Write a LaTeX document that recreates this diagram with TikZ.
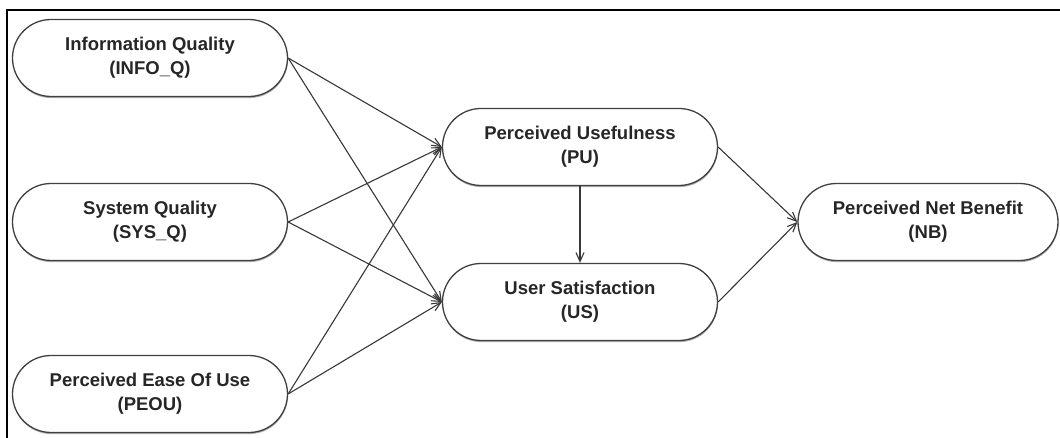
\documentclass[tikz,border=0pt]{standalone}
\usepackage{fontspec}
\setmainfont{Liberation Sans}
\usetikzlibrary{shapes.misc,arrows.meta,shadows}

\tikzset{
  construct/.style={
    rounded rectangle, draw=black!75, line width=1.3pt, fill=white,
    minimum width=275pt, minimum height=77pt, inner sep=0pt,
    align=center, font=\fontsize{18.5}{24}\selectfont\bfseries,
    text=black!85,
    drop shadow={shadow xshift=0.4pt, shadow yshift=-1.6pt, opacity=0.45, fill=black!70}
  },
  link/.style={draw=black!78, line width=1.1pt,
    -{Straight Barb[length=9pt,width=8pt,line width=1.1pt]}},
  frameline/.style={draw=black, line width=2.5pt}
}

\begin{document}
\begin{tikzpicture}[x=1pt,y=-1pt]
  \useasboundingbox (0,0) rectangle (1060,438);
  \fill[white] (0,0) rectangle (1060,438);

  % outer frame (top and left edges)
  \coordinate (fbl) at (7,438);
  \coordinate (ftl) at (7,10);
  \coordinate (ftr) at (1060,10);
  \draw[frameline] (fbl) -- (ftl) -- (ftr);

  % constructs
  \node[construct] (info) at (150,58)  {Information Quality\\(INFO\_Q)};
  \node[construct] (sys)  at (150,222) {System Quality\\(SYS\_Q)};
  \node[construct] (peou) at (150,394) {Perceived Ease Of Use\\(PEOU)};
  \node[construct] (pu)   at (580,147) {Perceived Usefulness\\(PU)};
  \node[construct] (us)   at (580,302) {User Satisfaction\\(US)};
  \node[construct, minimum width=260pt] (nb) at (928,222) {Perceived Net Benefit\\(NB)};

  % hypothesised paths
  \foreach \src in {info,sys,peou}{
    \draw[link] (\src.east) -- (pu.west);
    \draw[link] (\src.east) -- (us.west);
  }
  \draw[link] (pu.south) -- (us.north);
  \draw[link] (pu.east) -- (nb.west);
  \draw[link] (us.east) -- (nb.west);
\end{tikzpicture}
\end{document}
